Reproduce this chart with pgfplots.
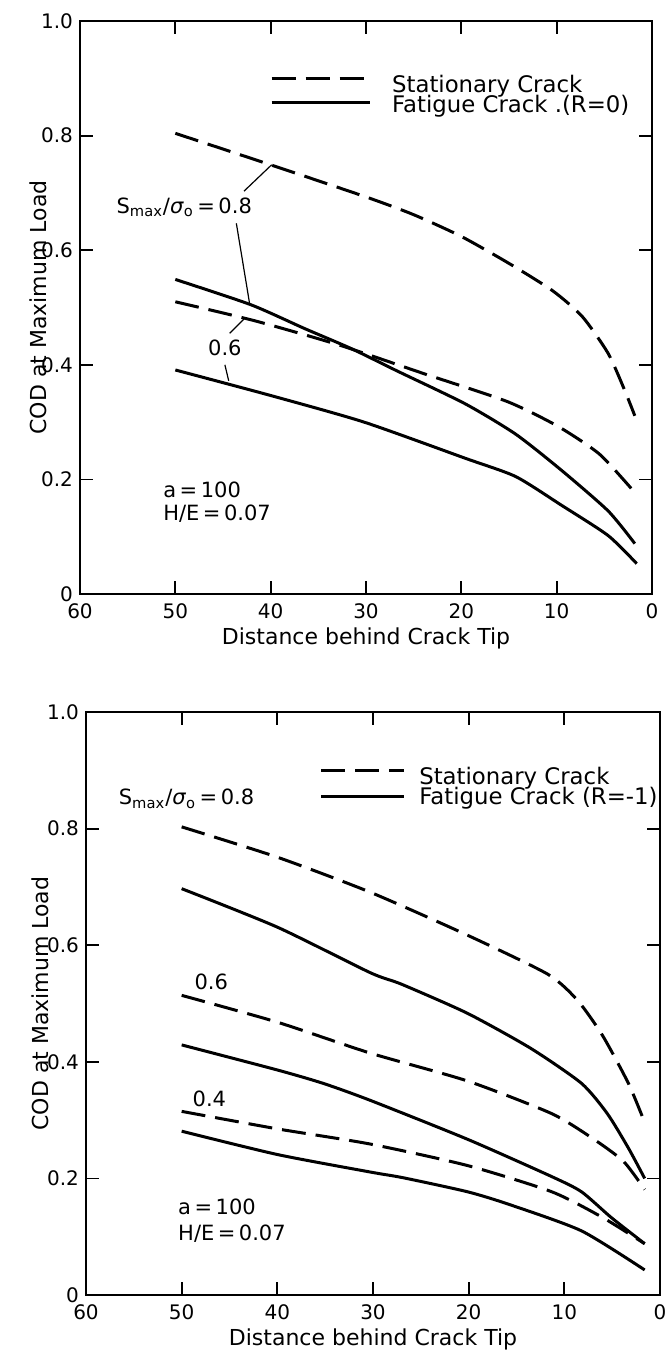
\documentclass[border=0pt]{standalone}
\usepackage{fontspec}
\setmainfont{DejaVu Sans}
\usepackage{pgfplots}
\pgfplotsset{compat=1.18}

% R = 0 (upper panel)
\pgfplotstableread{
x y
50   0.804
40   0.749
30   0.693
25   0.662
20   0.624
15   0.577
10.4 0.529
7.3  0.484
4.6  0.420
2.9  0.357
1.8  0.311
}\statA
\pgfplotstableread{
x y
50   0.549
42.1 0.505
36.4 0.463
31.5 0.428
26.7 0.389
19.6 0.332
14.3 0.279
9.5  0.216
4.6  0.145
1.8  0.088
}\fatA
\pgfplotstableread{
x y
50   0.510
41.7 0.477
32.9 0.435
24.0 0.385
15.2 0.336
9.9  0.293
5.5  0.244
1.8  0.177
}\statB
\pgfplotstableread{
x y
50   0.391
39.9 0.346
30.2 0.300
19.6 0.237
14.3 0.205
9.5  0.155
4.6  0.102
1.6  0.053
}\fatB

% R = -1 (lower panel)
\pgfplotstableread{
x y
50   0.803
40.0 0.751
30.3 0.691
20.1 0.617
11.7 0.550
8.6  0.505
6.0  0.445
3.3  0.363
1.6  0.296
}\statC
\pgfplotstableread{
x y
50   0.697
40.0 0.631
30.3 0.553
27.0 0.533
20.1 0.483
13.5 0.423
8.2  0.363
5.5  0.311
3.3  0.252
1.6  0.200
}\fatC
\pgfplotstableread{
x y
50   0.514
40.0 0.468
30.3 0.415
20.1 0.367
11.3 0.311
6.9  0.267
3.8  0.229
1.6  0.181
}\statD
\pgfplotstableread{
x y
50   0.429
40.0 0.386
35.2 0.363
30.3 0.334
20.1 0.267
11.3 0.203
8.2  0.177
5.1  0.133
1.6  0.088
}\fatD
\pgfplotstableread{
x y
50   0.315
40.0 0.285
30.3 0.259
20.1 0.222
11.3 0.177
6.0  0.133
1.6  0.088
}\statE
\pgfplotstableread{
x y
50   0.281
40.0 0.241
30.3 0.211
26.8 0.201
20.1 0.177
15.7 0.155
8.2  0.110
1.6  0.043
}\fatE

\pgfplotsset{
  codaxis/.style={
    scale only axis,
    xmin=0, xmax=60, x dir=reverse,
    ymin=0, ymax=1,
    xtick={0,10,20,30,40,50,60},
    ytick={0,0.2,0.4,0.6,0.8,1},
    yticklabels={0,0.2,0.4,0.6,0.8,1.0},
    tick align=inside,
    major tick length=6.5pt,
    axis line style={line width=1.2pt},
    every tick/.style={black, line width=0.9pt},
    /pgf/number format/assume math mode=true,
    tick label style={font=\fontsize{10}{11}\selectfont},
    xticklabel style={yshift=-1.5pt},
    xlabel={Distance behind Crack Tip},
    ylabel={COD at Maximum Load},
    label style={font=\fontsize{11}{13}\selectfont},
    xlabel style={at={(axis description cs:0.5,0)}, anchor=center, yshift=-22pt},
    clip=false,
  },
}
\tikzset{
  stat/.style={line width=1.5pt, dash pattern=on 12pt off 5pt, smooth, tension=0.4},
  fat/.style={line width=1.5pt, smooth, tension=0.4},
  note/.style={font=\fontsize{10.5}{12}\selectfont, inner sep=0pt},
  key/.style={font=\fontsize{11.4}{12}\selectfont, inner sep=0pt, anchor=west},
  leader/.style={line width=0.6pt},
}

\begin{document}
\begin{tikzpicture}
\useasboundingbox (0,0) rectangle (332.5pt,-678.5pt);

\begin{axis}[codaxis,
  at={(40pt,-297pt)}, anchor=south west,
  width=286pt, height=286.5pt,
  ylabel style={at={(axis description cs:0,0.5)}, anchor=center, yshift=21pt},
]
  \addplot[stat] table {\statA};
  \addplot[fat] table {\fatA};
  \addplot[stat] table {\statB};
  \addplot[fat] table {\fatB};

  % key
  \draw[stat] (axis cs:39.9,0.899) -- (axis cs:29.6,0.899);
  \draw[fat]  (axis cs:39.9,0.858) -- (axis cs:29.6,0.858);
  \node[key] at (axis cs:27.3,0.887) {Stationary Crack};
  \node[key] at (axis cs:27.3,0.852) {Fatigue Crack .(R=0)};

  \node[note, anchor=west] at (axis cs:56.2,0.675)
    {S\textsubscript{max}/\textit{σ}\textsubscript{o}\,=\,0.8};
  \draw[leader] (axis cs:42.8,0.703) -- (axis cs:39.9,0.749);
  \draw[leader] (axis cs:43.6,0.647) -- (axis cs:42.2,0.506);
  \node[note] at (axis cs:44.8,0.429) {0.6};
  \draw[leader] (axis cs:44.3,0.455) -- (axis cs:42.8,0.480);
  \draw[leader] (axis cs:44.8,0.400) -- (axis cs:44.4,0.372);
  \node[note, anchor=west] at (axis cs:51.3,0.1815) {a\,=\,100};
  \node[note, anchor=west] at (axis cs:51.3,0.141) {H/E\,=\,0.07};
\end{axis}

\begin{axis}[codaxis,
  at={(43pt,-647.5pt)}, anchor=south west,
  width=287pt, height=291.5pt,
  ylabel style={at={(axis description cs:0,0.5)}, anchor=center, yshift=23pt},
]
  \addplot[stat] table {\statC};
  \addplot[fat] table {\fatC};
  \addplot[stat] table {\statD};
  \addplot[fat] table {\fatD};
  \addplot[stat] table {\statE};
  \addplot[fat] table {\fatE};

  % key
  \draw[stat] (axis cs:35.4,0.899) -- (axis cs:26.8,0.899);
  \draw[fat]  (axis cs:35.4,0.855) -- (axis cs:26.8,0.855);
  \node[key] at (axis cs:25.2,0.887) {Stationary Crack};
  \node[key] at (axis cs:25.2,0.853) {Fatigue Crack (R=-1)};

  \node[note, anchor=west] at (axis cs:56.6,0.851)
    {S\textsubscript{max}/\textit{σ}\textsubscript{o}\,=\,0.8};
  \node[note] at (axis cs:46.9,0.538) {0.6};
  \node[note] at (axis cs:47.1,0.337) {0.4};
  \node[note, anchor=west] at (axis cs:50.4,0.151) {a\,=\,100};
  \node[note, anchor=west] at (axis cs:50.4,0.106) {H/E\,=\,0.07};
\end{axis}
\end{tikzpicture}
\end{document}
